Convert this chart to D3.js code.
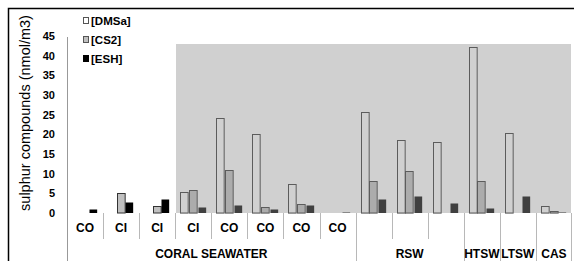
<!DOCTYPE html>
<html>
<head>
<meta charset="utf-8">
<script src="https://cdn.jsdelivr.net/npm/d3@7"></script>
<style>
body { margin: 0; background: #fff; }
svg { display: block; font-family: Arial, "Liberation Sans", sans-serif; }
</style>
</head>
<body>
<svg id="chart" width="574" height="261"></svg>
<script>
// sample labels (first row) and sample types (second row)
var samples = ["CO", "CI", "CI", "CI", "CO", "CO", "CO", "CO", "", "", "", "", "", ""];
var types = [
	{ name: "CORAL SEAWATER", from: 0, to: 7 },
	{ name: "RSW", from: 8, to: 10 },
	{ name: "HTSW", from: 11, to: 11 },
	{ name: "LTSW", from: 12, to: 12 },
	{ name: "CAS", from: 13, to: 13 }
];
var seriesNames = ["[DMSa]", "[CS2]", "[ESH]"];
var dmsa = [0, 0, 0, 5.3, 24.1, 20.0, 7.3, 0, 25.6, 18.6, 18.1, 42.2, 20.3, 1.8];
var cs2 = [0, 5.0, 1.8, 5.8, 10.9, 1.5, 2.3, 0, 8.1, 10.6, 0, 8.1, 0, 0.5];
var esh = [1.0, 2.8, 3.6, 1.5, 2.0, 1.0, 2.0, 0.2, 3.6, 4.3, 2.5, 1.3, 4.3, 0.3];
var yTicks = [0, 5, 10, 15, 20, 25, 30, 35, 40, 45];

var values = [dmsa, cs2, esh];
var fills = ["#ffffff", "#c0c0c0", "#000000"];
var strokes = ["#333333", "#333333", "none"];

var svg = d3.select("#chart");

// outer frame
svg.append("path")
	.attr("d", "M8.5,261V8.5H574")
	.attr("fill", "none")
	.attr("stroke", "#000")
	.attr("stroke-width", 1.5);

var x0 = d3.scaleBand()
	.domain(d3.range(samples.length))
	.range([67, 572]);

var x1 = d3.scaleBand()
	.domain(d3.range(seriesNames.length))
	.range([5, 31]);

var y = d3.scaleLinear()
	.domain([0, 45])
	.range([213, 36]);

// y axis: labels only, line drawn separately
var yAxis = svg.append("g")
	.attr("transform", "translate(55,0)")
	.call(d3.axisLeft(y).tickValues(yTicks).tickSize(0).tickPadding(0));
yAxis.select(".domain").remove();
yAxis.selectAll("text")
	.attr("font-size", "11px")
	.attr("font-weight", "bold")
	.attr("font-family", "Arial, 'Liberation Sans', sans-serif")
	.attr("fill", "#000");

svg.append("line")
	.attr("x1", 67.5).attr("x2", 67.5)
	.attr("y1", 37).attr("y2", 261)
	.attr("stroke", "#999");

svg.append("text")
	.attr("transform", "translate(30,113) rotate(-90)")
	.attr("text-anchor", "middle")
	.attr("font-size", "14.5px")
	.attr("fill", "#000")
	.text("sulphur compounds (nmol/m3)");

// bars
values.forEach(function (vals, s) {
	var pts = vals.map(function (v, i) { return { i: i, v: v }; })
		.filter(function (d) { return d.v > 0; });
	svg.append("g").selectAll("rect")
		.data(pts)
		.enter().append("rect")
		.attr("x", function (d) { return Math.round(x0(d.i) + x1(s)) + 0.5; })
		.attr("y", function (d) { return Math.round(y(d.v)) + 0.5; })
		.attr("width", x1.bandwidth() - 1)
		.attr("height", function (d) { return Math.max(0.5, 213 - Math.round(y(d.v)) - 0.5); })
		.attr("fill", fills[s])
		.attr("stroke", strokes[s])
		.attr("stroke-width", 1);
});

// gray shaded region over the later samples
svg.append("rect")
	.attr("x", 176)
	.attr("y", 44)
	.attr("width", 395)
	.attr("height", 169)
	.attr("fill", "rgb(147,147,147)")
	.attr("opacity", 0.435);

// category separators
var firstRowEnds = {};
types.forEach(function (t) { firstRowEnds[t.to + 1] = true; });
d3.range(1, samples.length + 1).forEach(function (i) {
	var xx = i < samples.length ? Math.round(x0(i)) + 0.5 : 571.5;
	svg.append("line")
		.attr("x1", xx).attr("x2", xx)
		.attr("y1", 213)
		.attr("y2", firstRowEnds[i] ? 261 : 239)
		.attr("stroke", "#b8b8b8");
});

// first row labels
svg.append("g").selectAll("text")
	.data(samples)
	.enter().append("text")
	.attr("x", function (d, i) { return x0(i) + x0.bandwidth() / 2; })
	.attr("y", 232)
	.attr("text-anchor", "middle")
	.attr("font-size", "12px")
	.attr("font-weight", "bold")
	.text(function (d) { return d; });

// second row labels
svg.append("g").selectAll("text")
	.data(types)
	.enter().append("text")
	.attr("x", function (d) { return (x0(d.from) + x0(d.to) + x0.bandwidth()) / 2; })
	.attr("y", 258)
	.attr("text-anchor", "middle")
	.attr("font-size", "12px")
	.attr("font-weight", "bold")
	.text(function (d) { return d.name; });

// legend
var legend = svg.append("g").selectAll("g")
	.data(seriesNames)
	.enter().append("g")
	.attr("transform", function (d, i) { return "translate(83," + (17 + i * 19) + ")"; });

legend.append("rect")
	.attr("x", 0.5).attr("y", 0.5)
	.attr("width", 5).attr("height", 6)
	.attr("fill", function (d, i) { return fills[i]; })
	.attr("stroke", function (d, i) { return i == 2 ? "#000" : "#555"; });

legend.append("text")
	.attr("x", 8)
	.attr("y", 8)
	.attr("font-size", "11.5px")
	.attr("font-weight", "bold")
	.text(function (d) { return d; });
</script>
</body>
</html>
